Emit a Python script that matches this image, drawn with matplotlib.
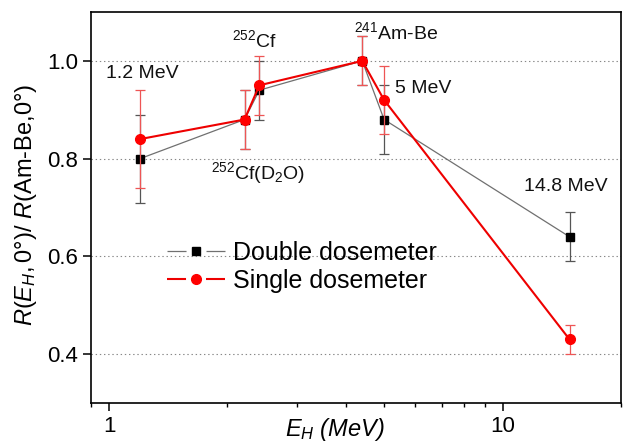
import matplotlib
matplotlib.use("Agg")
import matplotlib.pyplot as plt
from matplotlib.lines import Line2D
from matplotlib.legend_handler import HandlerTuple
from matplotlib.ticker import FuncFormatter, NullFormatter, LogLocator

plt.rcParams['font.family'] = ['Liberation Sans', 'DejaVu Sans']
plt.rcParams['mathtext.fontset'] = 'custom'
plt.rcParams['mathtext.rm'] = 'Liberation Sans'
plt.rcParams['mathtext.it'] = 'Liberation Sans:italic'
plt.rcParams['mathtext.bf'] = 'Liberation Sans:bold'
plt.rcParams['lines.scale_dashes'] = False

# neutron energies (MeV)
energy = [1.2, 2.21, 2.41, 4.40, 5.0, 14.8]
double = [0.80, 0.88, 0.94, 1.00, 0.88, 0.64]
double_err = [0.09, 0.06, 0.06, 0.05, 0.07, 0.05]
single = [0.84, 0.88, 0.95, 1.00, 0.92, 0.43]
single_err = [0.10, 0.06, 0.06, 0.05, 0.07, 0.03]

labels = [(0.983, 0.975, "1.2 MeV"),
          (2.055, 1.043, r"$^{252}$Cf"),
          (1.818, 0.770, r"$^{252}$Cf(D$_2$O)"),
          (4.20, 1.059, r"$^{241}$Am-Be"),
          (5.34, 0.944, "5 MeV"),
          (11.31, 0.743, "14.8 MeV")]

fig = plt.figure(figsize=(6.28, 4.42), dpi=100)
ax = fig.add_axes([0.1449, 0.0882, 0.844, 0.8847])

ax.errorbar(energy, double, yerr=double_err, fmt='none', ecolor='#555555',
            elinewidth=0.9, capsize=3.5, capthick=0.9, zorder=2)
ax.plot(energy, double, color='#707070', lw=0.9, zorder=3)
ax.plot(energy, double, 's', color='black', ms=5.5, zorder=4)

ax.errorbar(energy, single, yerr=single_err, fmt='none', ecolor='#ee5555',
            elinewidth=0.9, capsize=3.5, capthick=0.9, zorder=5)
ax.plot(energy, single, color='#ee0000', lw=1.5, zorder=6)
ax.plot(energy, single, 'o', color='#ff0000', ms=7, zorder=7)

for x, y, t in labels:
    ax.text(x, y, t, fontsize=14, ha='left', va='center', color='#111111')

ax.set_xscale('log')
ax.set_xlim(0.9, 20)
ax.set_ylim(0.3, 1.1)
ax.set_yticks([0.4, 0.6, 0.8, 1.0])
ax.yaxis.set_major_formatter(FuncFormatter(lambda v, p: f"{v:.1f}"))
ax.xaxis.set_major_locator(LogLocator(base=10))
ax.xaxis.set_major_formatter(FuncFormatter(lambda v, p: f"{v:g}"))
ax.xaxis.set_minor_formatter(NullFormatter())
ax.yaxis.grid(True, linestyle=(0, (1, 2)), color='#888888', lw=0.8)

ax.tick_params(axis='both', which='major', direction='out', length=6, width=1.1,
               labelsize=16, pad=3)
ax.tick_params(axis='x', which='minor', direction='out', length=3, width=1.0)
for s in ax.spines.values():
    s.set_linewidth(1.2)

ax.set_ylabel(r"$R(E_H,\mathit{0°})$/ $R$(Am-Be,0°)", fontsize=17)
ax.yaxis.set_label_coords(-0.098, 0.506)
ax.set_xlabel(r"$E_H$ (MeV)", fontsize=17, style='italic')
ax.xaxis.set_label_coords(0.46, -0.033)
ax.xaxis.label.set_va('top')

h1 = (Line2D([], [], color='#707070', lw=0.9, linestyle=(0, (13.7, 14.4))),
      Line2D([], [], color='black', marker='s', ms=5.5, linestyle='none'))
h2 = (Line2D([], [], color='#ee0000', lw=1.5, linestyle=(0, (13.7, 14.4))),
      Line2D([], [], color='#ff0000', marker='o', ms=7, linestyle='none'))
ax.legend([h1, h2], ["Double dosemeter", "Single dosemeter"],
          handler_map={tuple: HandlerTuple(ndivide=1)}, numpoints=1,
          loc='center left', bbox_to_anchor=(0.143, 0.348), bbox_transform=ax.transAxes,
          frameon=False, fontsize=18, handlelength=2.32, handletextpad=0.32,
          labelspacing=0.15, borderpad=0, borderaxespad=0)

fig.savefig("out.png", dpi=100)
